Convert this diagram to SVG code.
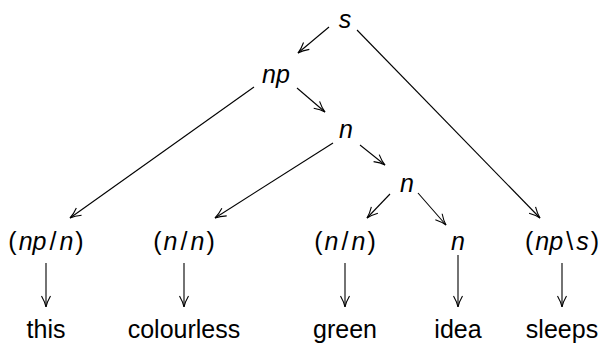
<svg xmlns="http://www.w3.org/2000/svg" width="600" height="347" viewBox="0 0 600 347">
<defs>
<marker id="ah" viewBox="-12 -6 14 12" markerWidth="14" markerHeight="12" refX="0" refY="0" orient="auto" markerUnits="userSpaceOnUse">
<path d="M-11,-4.5 Q-5,-1 0,0 Q-5,1 -11,4.5" fill="none" stroke="#000" stroke-width="1.1"/>
</marker>
</defs>
<style>
text{font-family:"Liberation Sans","DejaVu Sans",sans-serif;font-size:25px;fill:#000;text-anchor:middle}
.i{font-style:italic}
line{stroke:#000;stroke-width:1.1;marker-end:url(#ah)}
</style>
<rect width="600" height="347" fill="#fff"/>
<g id="connectors">
<line x1="329" y1="27" x2="298" y2="53"/>
<line x1="357" y1="30" x2="540" y2="218"/>
<line x1="254" y1="87" x2="70" y2="218"/>
<line x1="297" y1="88" x2="325" y2="112"/>
<line x1="333" y1="143" x2="215" y2="218"/>
<line x1="360" y1="145" x2="385" y2="165"/>
<line x1="390" y1="194" x2="367" y2="218"/>
<line x1="418" y1="193" x2="446" y2="225"/>
<line x1="46" y1="263" x2="46" y2="307"/>
<line x1="184" y1="263" x2="184" y2="307"/>
<line x1="345" y1="263" x2="345" y2="307"/>
<line x1="458" y1="255" x2="458" y2="307"/>
<line x1="562" y1="263" x2="562" y2="307"/>
</g>
<g id="s"><text x="345" y="28" class="i">s</text></g>
<g id="np"><text x="276" y="83" class="i">np</text></g>
<g id="n1"><text x="346" y="138" class="i">n</text></g>
<g id="n2"><text x="407" y="192" class="i">n</text></g>
<g id="c1"><text x="46" y="250">(<tspan class="i" dx="2">np</tspan><tspan dx="3">/</tspan><tspan class="i" dx="3">n</tspan><tspan dx="2">)</tspan></text></g>
<g id="c2"><text x="184" y="250">(<tspan class="i" dx="2">n</tspan><tspan dx="3">/</tspan><tspan class="i" dx="3">n</tspan><tspan dx="2">)</tspan></text></g>
<g id="c3"><text x="345" y="250">(<tspan class="i" dx="2">n</tspan><tspan dx="3">/</tspan><tspan class="i" dx="3">n</tspan><tspan dx="2">)</tspan></text></g>
<g id="c4"><text x="458" y="250" class="i">n</text></g>
<g id="c5"><text x="562" y="250">(<tspan class="i" dx="2">np</tspan><tspan dx="3">\</tspan><tspan class="i" dx="3">s</tspan><tspan dx="2">)</tspan></text></g>
<g id="w1"><text x="46" y="338">this</text></g>
<g id="w2"><text x="184" y="338">colourless</text></g>
<g id="w3"><text x="345" y="338">green</text></g>
<g id="w4"><text x="458" y="338">idea</text></g>
<g id="w5"><text x="562" y="338">sleeps</text></g>
</svg>
